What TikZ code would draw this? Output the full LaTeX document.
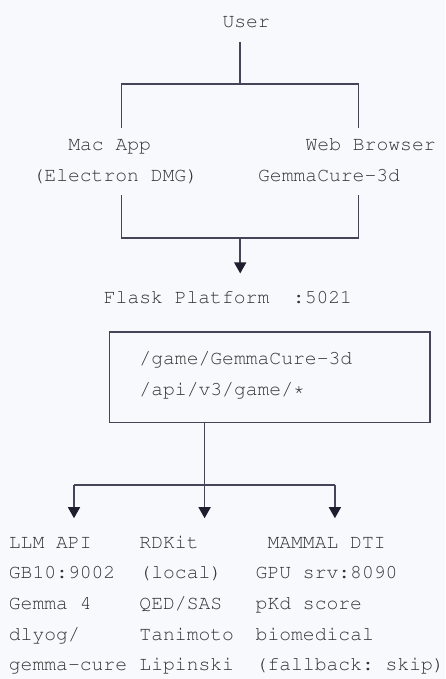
\documentclass[tikz,border=0pt]{standalone}
\usepackage[T1]{fontenc}
\usepackage{courier}
\renewcommand{\familydefault}{\ttdefault}
\usetikzlibrary{arrows.meta}
\definecolor{bgc}{HTML}{F8F9FC}
\definecolor{txtc}{HTML}{333333}
\definecolor{linec}{HTML}{45455A}
\definecolor{tipc}{HTML}{1E1E2E}
\frenchspacing

\begin{document}
\begin{tikzpicture}[x=1pt,y=-1pt,
  txt/.style={anchor=base west,inner sep=0pt,outer ysep=10pt,text height=12pt,text depth=4pt,
    text=txtc,font=\fontsize{19.7pt}{23pt}\selectfont},
  wire/.style={draw=linec,line width=1.5pt},
  feed/.style={wire,-{Triangle[width=12pt,length=11pt,color=tipc]},shorten >=8pt}]
  % Page and background
  \fill[bgc] (0,0) rectangle (445,679);
  \useasboundingbox (0,0) rectangle (445,679);

  % User and the two clients
  \node[txt] (user) at (222.36,28) {User};
  \node[txt] (mac) at (68.05,150.4) {Mac App};
  \node[txt] (macsub) at (32.44,181) {(Electron DMG)};
  \node[txt] (web) at (305.45,150.4) {Web Browser};
  \node[txt] (websub) at (257.97,181) {GemmaCure-3d};

  % Flask platform and its routes
  \node[txt] (flask) at (103.66,303.4) {Flask Platform~~:5021};
  \node[wire,minimum width=320.3pt,minimum height=90.5pt,inner sep=0pt] (routes) at (269.75,377.25) {};
  \node[txt] (game) at (139.27,364.6) {/game/GemmaCure-3d};
  \node[txt] (api) at (139.27,395.2) {/api/v3/game/*};

  % Back ends
  \foreach \t [count=\i] in {{LLM API},{GB10:9002},{Gemma 4},{dlyog/},{gemma-cure}}
    \node[txt] (llm\i) at (8.7,{548.2+(\i-1)*30.6}) {\t};
  \foreach \t [count=\i] in {{RDKit},{(local)},{QED/SAS},{Tanimoto},{Lipinski}}
    \node[txt] (rdkit\i) at (139.27,{548.2+(\i-1)*30.6}) {\t};
  \node[txt] (mammal1) at (267.3,548.2) {MAMMAL DTI};
  \foreach \t [count=\i from 2] in {{GPU srv:8090},{pKd score},{biomedical},{(fallback: skip)}}
    \node[txt] (mammal\i) at (255.5,{548.2+(\i-1)*30.6}) {\t};

  % Split and merge points
  \coordinate (split) at (240.2,84);
  \coordinate (splitL) at (121.5,84);
  \coordinate (splitR) at (358.7,84);
  \coordinate (merge) at (240.2,238);
  \coordinate (mergeL) at (121.5,238);
  \coordinate (mergeR) at (358.7,238);
  \coordinate (fork) at (204.6,485);
  \coordinate (forkL) at (74,485);
  \coordinate (forkR) at (334.9,485);

  % Connectors
  \draw[wire] (user.south -| split) -- (split);
  \draw[wire] (mac.north -| splitL) -- (splitL) -- (splitR) -- (web.north -| splitR);
  \draw[wire] (macsub.south -| mergeL) -- (mergeL) -- (mergeR) -- (websub.south -| mergeR);
  \draw[feed] (merge) -- (flask.north -| merge);
  \draw[wire] (routes.south -| fork) -- (fork);
  \draw[wire] (forkL) -- (forkR);
  \draw[feed] (forkL) -- (llm1.north -| forkL);
  \draw[feed] (fork) -- (rdkit1.north -| fork);
  \draw[feed] (forkR) -- (mammal1.north -| forkR);
\end{tikzpicture}
\end{document}
